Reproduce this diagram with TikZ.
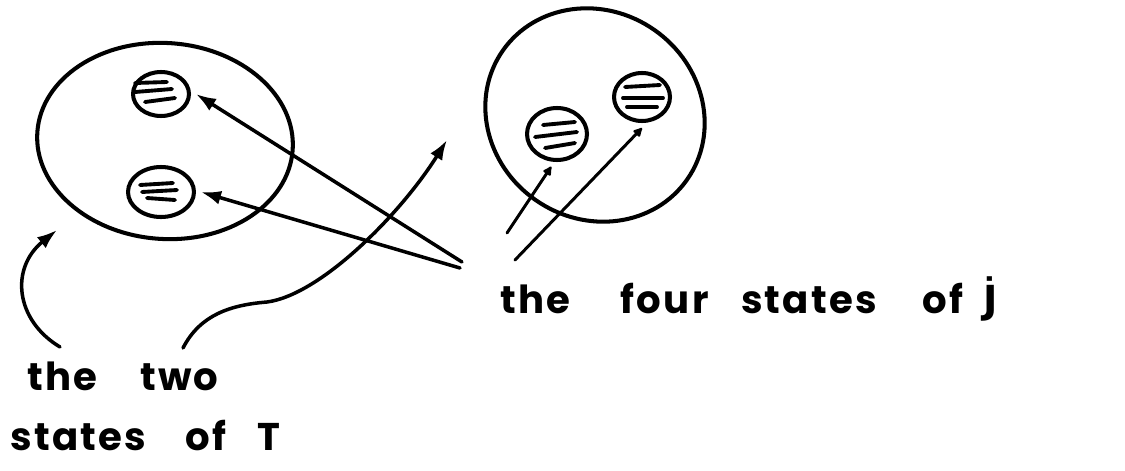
\documentclass[tikz,border=0pt]{standalone}
\usepackage{fontspec}
\setmainfont{Poppins}[LetterSpace=6]
\newfontfamily\dvfont{DejaVu Sans}
\usetikzlibrary{shapes.geometric,arrows.meta}
\begin{document}
\begin{tikzpicture}[x=0.02cm,y=-0.02cm,
  ink/.style={line width=2.3pt, line cap=round, line join=round},
  bigset/.style={ink, draw, ellipse, inner sep=0pt},
  blob/.style={ink, draw, ellipse, inner sep=0pt, outer sep=0.14cm},
  hatch/.style={line width=2.2pt, line cap=round},
  arr/.style={line width=2pt, line cap=round, -{Latex[length=0.4cm,width=0.28cm]}},
  sarr/.style={line width=1.7pt, line cap=round, -{Latex[length=0.22cm,width=0.22cm,round]}},
  lbl/.style={font=\fontsize{22}{26}\selectfont\bfseries, inner sep=0pt, anchor=base west},
]
\useasboundingbox (0,0) rectangle (1125,470);
% sets
\node[bigset, minimum width=5.12cm, minimum height=3.92cm, rotate=-4] (T) at (165,141) {};
\node[bigset, minimum width=4.5cm, minimum height=4.15cm, rotate=-35] (J) at (595,115) {};
% states
\node[blob, minimum width=1.12cm, minimum height=0.88cm] (tl) at (161,94) {};
\node[blob, minimum width=1.32cm, minimum height=1.0cm] (bl) at (161,192) {};
\node[blob, minimum width=1.2cm, minimum height=1.04cm] (ra) at (557,134) {};
\node[blob, minimum width=1.12cm, minimum height=0.96cm] (rb) at (642,97) {};
% hatching
\draw[hatch] (tl) ++(-26,-11) -- ++(32,-1);
\draw[hatch] (tl) ++(-26,-2) -- ++(37,-3);
\draw[hatch] (tl) ++(-16,8) -- ++(30,-4);
\draw[hatch] (bl) ++(-21,-7) -- ++(33,-2);
\draw[hatch] (bl) ++(-19,0) -- ++(35,-2);
\draw[hatch] (bl) ++(-14,6) -- ++(28,2);
\draw[hatch] (ra) ++(-14,-9) -- ++(32,-3);
\draw[hatch] (ra) ++(-22,3) -- ++(42,-5);
\draw[hatch] (ra) ++(-12,14) -- ++(30,-5);
\draw[hatch] (rb) ++(-17,-10) -- ++(35,-2);
\draw[hatch] (rb) ++(-19,1) -- ++(40,0);
\draw[hatch] (rb) ++(-15,10) -- ++(30,0);
% labels
\node[lbl] (two) at (27,390) {the\hspace{0.85cm}two};
\node[lbl] (statesT) at (10,450) {states\hspace{0.78cm}of\hspace{0.62cm}T};
\node[lbl] (four) at (500,313) {the\hspace{1.0cm}four\hspace{0.65cm}states\hspace{0.9cm}of\hspace{0.4cm}{\dvfont J̇}};
% connector ends
\coordinate (s1) at (462,262);
\coordinate (s2) at (460,268);
\coordinate (s3) at (507,233);
\coordinate (s4) at (515,260);
\coordinate (c1) at (60,347);
\coordinate (t1) at (57,230);
\coordinate (c2) at (183,348);
\coordinate (t2) at (447,140);
% connectors
\draw[arr] (s1) -- (tl.east);
\draw[arr] (s2) -- (bl.east);
\draw[sarr] (s3) -- (ra.-100);
\draw[sarr] (s4) -- (rb.south);
\draw[arr] (c1) .. controls (15,320) and (10,268) .. (t1);
\draw[arr] (c2) .. controls (200,315) and (230,305) .. (267,302) .. controls (320,295) and (400,215) .. (t2);
\end{tikzpicture}
\end{document}
